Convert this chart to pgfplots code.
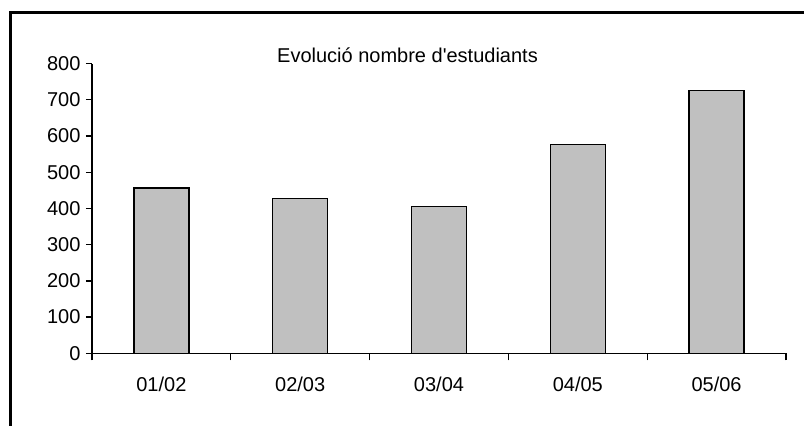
\documentclass[border=0pt]{standalone}
\usepackage{pgfplots}
\pgfplotsset{compat=1.18}
\usepackage{fontspec}
\setmainfont{Liberation Sans}
\definecolor{bargray}{RGB}{192,192,192}
\begin{document}
\begin{tikzpicture}[x=1pt,y=1pt]
\useasboundingbox (0,0) rectangle (804,426);
\draw[line width=3pt] (10,0) -- (10,413) -- (806,413);
\node[font=\fontsize{20}{24}\selectfont] at (407.5,371) {Evolució nombre d\textquotesingle estudiants};
\begin{axis}[
  at={(92pt,72.7pt)}, anchor=south west,
  scale only axis, width=694pt, height=289.8pt,
  xmin=0.5, xmax=5.5, ymin=0, ymax=800,
  axis x line=bottom, axis y line=left,
  x axis line style={-}, y axis line style={-},
  axis line style={line width=1.3pt},
  every tick/.style={black, line width=1.3pt},
  tick align=outside,
  ytick={0,100,...,800},
  xtick={1,2,3,4,5},
  xticklabels={01/02,02/03,03/04,04/05,05/06},
  major x tick style={draw=none},
  minor xtick={0.5,1.5,2.5,3.5,4.5,5.5},
  major tick length=6pt, minor tick length=7pt,
  tick label style={font=\fontsize{20}{24}\selectfont},
  /pgf/number format/assume math mode=true,
  xticklabel style={yshift=-14pt},
  yticklabel style={xshift=-2pt},
  clip=false,
]
\addplot[ybar, bar width=55pt, fill=bargray, draw=black, line width=1.3pt]
  coordinates {(1,456) (2,428) (3,406) (4,577) (5,726)};
\end{axis}
\end{tikzpicture}
\end{document}
